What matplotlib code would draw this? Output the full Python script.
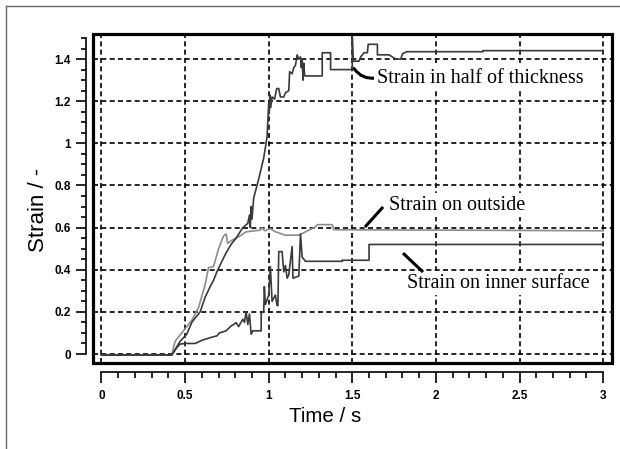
import numpy as np
import matplotlib
matplotlib.use('Agg')
import matplotlib.pyplot as plt
from matplotlib.patches import Rectangle
from matplotlib.lines import Line2D
from matplotlib.ticker import MultipleLocator


# Data
half_t = [0, 0.42, 0.47, 0.51, 0.54, 0.59, 0.62, 0.65, 0.67, 0.69, 0.72, 0.745, 0.775, 0.805, 0.845,
          0.875, 0.885, 0.89, 0.895, 0.90, 0.91, 0.94, 0.97, 0.99, 1.0, 1.003, 1.008, 1.012, 1.02,
          1.035, 1.048, 1.06, 1.07, 1.09, 1.10, 1.12, 1.125, 1.14, 1.15, 1.16, 1.17, 1.18, 1.19,
          1.195, 1.20, 1.205, 1.21, 1.215, 1.32, 1.32, 1.37, 1.37, 1.50, 1.50, 1.505, 1.54, 1.55,
          1.57, 1.59, 1.595, 1.65, 1.65, 1.72, 1.74, 1.76, 1.79, 1.80, 1.825, 2.28, 2.28, 3.0]
half_y = [-0.005, -0.005, 0.06, 0.094, 0.15, 0.20, 0.27, 0.32, 0.35, 0.39, 0.44, 0.48, 0.52, 0.55, 0.60,
          0.62, 0.66, 0.60, 0.70, 0.64, 0.74, 0.83, 0.93, 1.03, 1.19, 1.14, 1.23, 1.17, 1.22,
          1.21, 1.26, 1.26, 1.22, 1.22, 1.24, 1.25, 1.34, 1.33, 1.36, 1.37, 1.42, 1.40, 1.41,
          1.36, 1.40, 1.30, 1.38, 1.32, 1.32, 1.43, 1.43, 1.35, 1.35, 1.50, 1.39, 1.39, 1.41,
          1.43, 1.43, 1.47, 1.47, 1.42, 1.42, 1.41, 1.40, 1.40, 1.425, 1.435, 1.435, 1.44, 1.44]

out_t = [0, 0.42, 0.44, 0.49, 0.54, 0.58, 0.62, 0.64, 0.67, 0.70, 0.73, 0.745, 0.755, 0.78, 0.82,
         0.865, 0.95, 0.96, 0.975, 1.01, 1.04, 1.10, 1.18, 1.22, 1.28, 1.29, 1.38, 1.39, 3.0]
out_y = [-0.005, -0.005, 0.06, 0.11, 0.16, 0.22, 0.33, 0.41, 0.415, 0.50, 0.56, 0.57, 0.525, 0.54, 0.556,
         0.58, 0.588, 0.60, 0.585, 0.595, 0.58, 0.564, 0.564, 0.58, 0.603, 0.614, 0.614, 0.59, 0.585]

inner_t = [0, 0.42, 0.45, 0.47, 0.50, 0.56, 0.60, 0.62, 0.64, 0.66, 0.69, 0.705, 0.745, 0.775, 0.79,
           0.805, 0.82, 0.845, 0.855, 0.865, 0.875, 0.885, 0.895, 0.905, 0.955, 0.955, 0.97, 0.974,
           0.98, 1.0, 1.01, 1.02, 1.04, 1.05, 1.055, 1.06, 1.08, 1.09, 1.10, 1.11, 1.12, 1.14, 1.145,
           1.18, 1.19, 1.20, 1.22, 1.44, 1.44, 1.60, 1.60, 3.0]
inner_y = [-0.005, -0.005, 0.03, 0.047, 0.05, 0.05, 0.065, 0.07, 0.075, 0.08, 0.086, 0.10, 0.11, 0.133, 0.14,
           0.149, 0.13, 0.165, 0.15, 0.20, 0.14, 0.19, 0.094, 0.11, 0.11, 0.196, 0.20, 0.32,
           0.235, 0.28, 0.415, 0.25, 0.28, 0.23, 0.23, 0.486, 0.486, 0.39, 0.42, 0.36, 0.375, 0.51, 0.36,
           0.37, 0.57, 0.46, 0.44, 0.44, 0.445, 0.445, 0.52, 0.52]

x_ticks = [0, 0.5, 1, 1.5, 2, 2.5, 3]
x_labels = ['0', '0.5', '1', '1.5', '2', '2.5', '3']
y_ticks = [0, 0.2, 0.4, 0.6, 0.8, 1.0, 1.2, 1.4]
y_labels = ['0', '0.2', '0.4', '0.6', '0.8', '1', '1.2', '1.4']


W, H = 620, 449
fig = plt.figure(figsize=(W / 100, H / 100), dpi=100)

# outer frame (top and left only visible)
fig.add_artist(Line2D([6 / W, 6 / W], [0, 1 - 6 / H], color='#666666', lw=1.0))
fig.add_artist(Line2D([6 / W, 1], [1 - 6 / H, 1 - 6 / H], color='#666666', lw=1.0))

left, right, top, bottom = 93, 612, 34, 363
ax = fig.add_axes([left / W, 1 - bottom / H, (right - left) / W, (bottom - top) / H])
ax.set_xlim(-0.0508, 3.053)
ax.set_ylim(-0.0427, 1.519)

ax.plot(out_t, out_y, color='#8c8c8c', lw=1.2, zorder=3)
ax.plot(inner_t, inner_y, color='#3a3a3a', lw=1.2, zorder=4)
ax.plot(half_t, half_y, color='#3a3a3a', lw=1.2, zorder=4)

# grid
ax.set_xticks(x_ticks)
ax.set_xticklabels(x_labels)
ax.set_yticks(y_ticks)
ax.set_yticklabels(y_labels)
ax.xaxis.set_minor_locator(MultipleLocator(0.1))
ax.yaxis.set_minor_locator(MultipleLocator(0.05))
ax.grid(True, which='major', color='black', lw=1.2, linestyle=(0, (3, 2)))
ax.set_axisbelow(True)

# detached axes lines
for s in ['top', 'right']:
    ax.spines[s].set_visible(False)
ax.spines['left'].set_position(('outward', 7 * 0.72))
ax.spines['bottom'].set_position(('outward', 9 * 0.72))
ax.spines['left'].set_bounds(0, 1.5)
ax.spines['bottom'].set_bounds(0, 3)
ax.spines['left'].set_linewidth(1.2)
ax.spines['bottom'].set_linewidth(1.2)

tick_font = dict(family=['Liberation Sans Narrow', 'Liberation Sans'], weight='bold', size=8.5)
ax.tick_params(axis='x', which='major', direction='out', length=8, width=1.2, pad=5)
ax.tick_params(axis='x', which='minor', direction='out', length=4, width=1.2)
ax.tick_params(axis='y', which='major', direction='out', length=7, width=1.2, pad=4)
ax.tick_params(axis='y', which='minor', direction='out', length=3.5, width=1.2)
for lab in ax.get_xticklabels() + ax.get_yticklabels():
    lab.set_fontproperties(tick_font)

# thick frame
ax.add_patch(Rectangle((0, 0), 1, 1, transform=ax.transAxes, fill=False,
                       lw=2.3, edgecolor='black', clip_on=False, zorder=5))

# axis titles
fig.text(325 / W, 1 - 416 / H, 'Time / s', ha='center', va='center',
         family='Liberation Sans', fontsize=14.8)
fig.text(38 / W, 1 - 210 / H, 'Strain / -', ha='center', va='center', rotation=90,
         family='Liberation Sans', fontsize=16)

# annotations (white box hides the grid behind the text)
note_font = dict(family='Liberation Serif', fontsize=14.5, zorder=5,
                 bbox=dict(facecolor='white', edgecolor='none', pad=2))
ax.text(1.648, 1.31, 'Strain in half of thickness', va='center', ha='left', **note_font)
ax.text(1.72, 0.707, 'Strain on outside', va='center', ha='left', **note_font)
ax.text(1.827, 0.337, 'Strain on inner surface', va='center', ha='left', **note_font)

ax.annotate('', xy=(1.51, 1.355), xytext=(1.64, 1.31),
            arrowprops=dict(arrowstyle='-', lw=2.2, color='black', connectionstyle='arc3,rad=-0.3',
                            shrinkA=0, shrinkB=0))
ax.plot([1.576, 1.684], [0.603, 0.698], color='black', lw=2.2, solid_capstyle='butt', zorder=6)
ax.plot([1.803, 1.923], [0.479, 0.389], color='black', lw=2.2, solid_capstyle='butt', zorder=6)

plt.savefig('out.png', dpi=100)
